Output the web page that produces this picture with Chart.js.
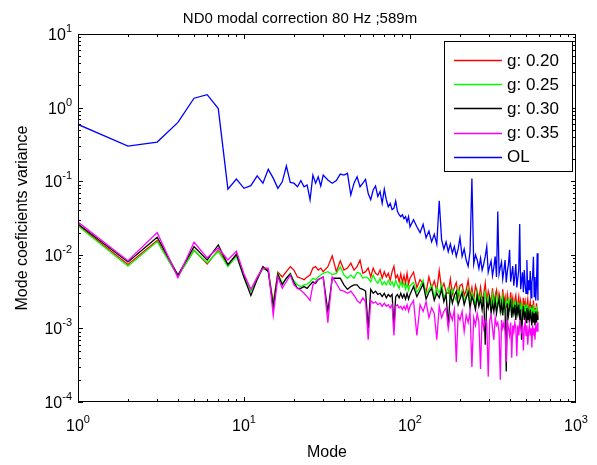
<!DOCTYPE html>
<html lang="en">
<head>
<meta charset="UTF-8">
<title>ND0 modal correction 80 Hz ;589m</title>
<script src="https://cdn.jsdelivr.net/npm/chart.js"></script>
<style>
    html, body { margin: 0; padding: 0; background: #fff; }
</style>
</head>
<body>
<canvas id="myChart" width="597" height="465"></canvas>
<script>
// Mode numbers (x values)
const modes = [
    1, 2, 3, 4, 5, 6, 7, 8, 9, 10,
    11, 12, 13, 14, 15, 16, 17, 18, 19, 20,
    21, 22, 23, 24, 25, 26, 27, 28, 29, 30,
    32, 34, 36, 38, 40, 42, 44, 46, 48, 50,
    52, 54, 56, 58, 60, 62, 64, 66, 68, 70,
    72, 74, 76, 78, 80, 82, 84, 86, 88, 90,
    92, 94, 96, 98, 100,
    105, 110, 115, 120, 125, 130, 135, 140, 145, 150,
    155, 160, 165, 170, 175, 180, 185, 190, 195, 200,
    206, 212, 218, 224, 230, 236, 242, 248, 254, 260,
    266, 272, 278, 284, 290, 296, 302, 308, 314, 320,
    326, 332, 338, 344, 350, 356, 362, 368, 374, 380,
    386, 392, 398, 404, 410, 416, 422, 428, 434, 440,
    446, 452, 458, 464, 470, 476, 482, 488, 494, 500,
    506, 512, 518, 524, 530, 536, 542, 548, 554, 560,
    566, 572, 578, 584, 590
];

// Mode coefficient variance, gain 0.20
const g020 = [
    0.0254, 0.0074, 0.0156, 0.0051, 0.0116, 0.0075, 0.0116, 0.0074, 0.0099, 0.0052,
    0.0033, 0.0049, 0.0068, 0.0062, 0.0022, 0.0058, 0.0050, 0.0059, 0.0069, 0.0062,
    0.0050, 0.0048, 0.0046, 0.0050, 0.0053, 0.0066, 0.0069, 0.0062, 0.0066, 0.0059,
    0.0069, 0.0097, 0.0059, 0.0083, 0.0062, 0.0066, 0.0077, 0.0062, 0.0069, 0.0085,
    0.0056, 0.0059, 0.0066, 0.0050, 0.0066, 0.0056, 0.0053, 0.0062, 0.0048, 0.0059,
    0.0050, 0.0056, 0.0045, 0.0059, 0.0070, 0.0048, 0.0053, 0.0043, 0.0055, 0.0042,
    0.0052, 0.0041, 0.0056, 0.0040, 0.0048,
    0.0058, 0.0036, 0.0046, 0.0040, 0.0031, 0.0050, 0.0035, 0.0044, 0.0032, 0.0061,
    0.0034, 0.0041, 0.0031, 0.0030, 0.0047, 0.0029, 0.0036, 0.0042, 0.0027, 0.0038,
    0.0040, 0.0028, 0.0033, 0.0045, 0.0027, 0.0036, 0.0024, 0.0038, 0.0031, 0.0025,
    0.0036, 0.0024, 0.0029, 0.0041, 0.0023, 0.0032, 0.0026, 0.0022, 0.0035, 0.0023,
    0.0028, 0.0033, 0.0021, 0.0030, 0.0025, 0.0020, 0.0034, 0.0022, 0.0027, 0.0019,
    0.0029, 0.0023, 0.0020, 0.0031, 0.0021, 0.0026, 0.0018, 0.0024, 0.0028, 0.0019,
    0.0022, 0.0027, 0.0018, 0.0024, 0.0020, 0.0017, 0.0026, 0.0019, 0.0023, 0.0016,
    0.0021, 0.0025, 0.0017, 0.0020, 0.0023, 0.0016, 0.0021, 0.0015, 0.0024, 0.0017,
    0.0019, 0.0015, 0.0022, 0.0017, 0.0015
];

// gain 0.25
const g025 = [
    0.0247, 0.0070, 0.0151, 0.0051, 0.0114, 0.0078, 0.0112, 0.0069, 0.0095, 0.0050,
    0.0032, 0.0047, 0.0066, 0.0060, 0.0021, 0.0056, 0.0041, 0.0048, 0.0056, 0.0044,
    0.0039, 0.0037, 0.0039, 0.0040, 0.0043, 0.0048, 0.0046, 0.0050, 0.0053, 0.0056,
    0.0059, 0.0054, 0.0056, 0.0069, 0.0053, 0.0048, 0.0053, 0.0048, 0.0058, 0.0056,
    0.0048, 0.0050, 0.0048, 0.0043, 0.0053, 0.0045, 0.0041, 0.0048, 0.0039, 0.0043,
    0.0039, 0.0045, 0.0039, 0.0043, 0.0037, 0.0045, 0.0039, 0.0035, 0.0043, 0.0037,
    0.0042, 0.0034, 0.0040, 0.0033, 0.0038,
    0.0042, 0.0031, 0.0037, 0.0045, 0.0029, 0.0034, 0.0039, 0.0027, 0.0036, 0.0030,
    0.0040, 0.0026, 0.0031, 0.0036, 0.0025, 0.0034, 0.0028, 0.0024, 0.0035, 0.0026,
    0.0033, 0.0023, 0.0028, 0.0035, 0.0022, 0.0031, 0.0026, 0.0021, 0.0032, 0.0023,
    0.0029, 0.0021, 0.0026, 0.0031, 0.0020, 0.0027, 0.0022, 0.0019, 0.0029, 0.0021,
    0.0026, 0.0018, 0.0028, 0.0021, 0.0025, 0.0018, 0.0027, 0.0020, 0.0017, 0.0025,
    0.0021, 0.0024, 0.0017, 0.0026, 0.0019, 0.0016, 0.0024, 0.0018, 0.0022, 0.0015,
    0.0023, 0.0017, 0.0020, 0.0015, 0.0023, 0.0018, 0.0014, 0.0021, 0.0016, 0.0020,
    0.0015, 0.0021, 0.0016, 0.0014, 0.0020, 0.0015, 0.0019, 0.0013, 0.0021, 0.0014,
    0.0018, 0.0013, 0.0020, 0.0014, 0.0014
];

// gain 0.30
const g030 = [
    0.0262, 0.0080, 0.0173, 0.0053, 0.0129, 0.0085, 0.0136, 0.0073, 0.0102, 0.0049,
    0.0028, 0.0046, 0.0069, 0.0059, 0.0020, 0.0054, 0.0039, 0.0048, 0.0055, 0.0042,
    0.0035, 0.0035, 0.0037, 0.0035, 0.0039, 0.0043, 0.0041, 0.0046, 0.0048, 0.0050,
    0.0017, 0.0048, 0.0048, 0.0048, 0.0039, 0.0034, 0.0037, 0.0039, 0.0039, 0.0035,
    0.0034, 0.0032, 0.0010, 0.0034, 0.0030, 0.0032, 0.0029, 0.0030, 0.0027, 0.0030,
    0.0026, 0.0029, 0.0027, 0.0029, 0.0011, 0.0027, 0.0029, 0.0026, 0.0030, 0.0026,
    0.0029, 0.0025, 0.0030, 0.0025, 0.0029,
    0.0037, 0.0027, 0.0033, 0.0040, 0.0025, 0.0031, 0.0035, 0.0024, 0.0030, 0.0026,
    0.0034, 0.0023, 0.0029, 0.0011, 0.0031, 0.0022, 0.0028, 0.0032, 0.0021, 0.0025,
    0.0030, 0.0021, 0.0026, 0.0031, 0.0019, 0.0027, 0.0023, 0.0018, 0.0028, 0.0020,
    0.0025, 0.0018, 0.0027, 0.0006, 0.0023, 0.0019, 0.0026, 0.0016, 0.0022, 0.0017,
    0.0024, 0.0016, 0.0021, 0.0025, 0.0017, 0.0022, 0.0015, 0.0023, 0.0018, 0.00026,
    0.0022, 0.0015, 0.0020, 0.0023, 0.0014, 0.0019, 0.0016, 0.0021, 0.0013, 0.0020,
    0.0016, 0.0021, 0.0013, 0.0018, 0.0007, 0.0015, 0.0020, 0.0013, 0.0017, 0.0012,
    0.0019, 0.0013, 0.0016, 0.0012, 0.0018, 0.0014, 0.0011, 0.0017, 0.0012, 0.0016,
    0.0011, 0.0017, 0.0012, 0.0015, 0.0013
];

// gain 0.35
const g035 = [
    0.0278, 0.0083, 0.0200, 0.0049, 0.0148, 0.0091, 0.0124, 0.0085, 0.0112, 0.0055,
    0.0034, 0.0049, 0.0066, 0.0066, 0.0015, 0.0050, 0.0035, 0.0043, 0.0053, 0.0039,
    0.0035, 0.0033, 0.0030, 0.0027, 0.0024, 0.0039, 0.0043, 0.0046, 0.0048, 0.0050,
    0.0012, 0.0050, 0.0041, 0.0033, 0.0032, 0.0030, 0.0032, 0.0028, 0.0024, 0.0022,
    0.0026, 0.0023, 0.0007, 0.0024, 0.0022, 0.0023, 0.0021, 0.0022, 0.0020, 0.0022,
    0.0020, 0.0021, 0.0019, 0.0021, 0.0008, 0.0020, 0.0021, 0.0019, 0.0020, 0.0018,
    0.0020, 0.0018, 0.0021, 0.0017, 0.0020,
    0.0024, 0.0008, 0.0021, 0.0017, 0.0023, 0.0014, 0.0019, 0.0016, 0.0007, 0.0020,
    0.0014, 0.0017, 0.0019, 0.0010, 0.0016, 0.0013, 0.0018, 0.00035, 0.0015, 0.0013,
    0.0017, 0.0009, 0.0015, 0.0012, 0.0017, 0.0003, 0.0014, 0.0011, 0.0016, 0.0012,
    0.00028, 0.0015, 0.0010, 0.0013, 0.0012, 0.00022, 0.0013, 0.0015, 0.0010, 0.0007,
    0.0014, 0.0011, 0.0012, 0.0009, 0.0002, 0.0013, 0.0010, 0.0012, 0.0009, 0.00035,
    0.0013, 0.0010, 0.0008, 0.0012, 0.0004, 0.0011, 0.0009, 0.0012, 0.0010, 0.00042,
    0.0011, 0.0008, 0.0012, 0.0010, 0.0009, 0.0011, 0.0005, 0.0010, 0.0012, 0.0008,
    0.0011, 0.0006, 0.0009, 0.0011, 0.0008, 0.0010, 0.00055, 0.0011, 0.0008, 0.0010,
    0.0007, 0.0011, 0.0009, 0.0012, 0.0009
];

// open loop
const openLoop = [
    0.59, 0.30, 0.34, 0.63, 1.34, 1.50, 0.97, 0.078, 0.107, 0.080,
    0.087, 0.118, 0.094, 0.145, 0.110, 0.080, 0.098, 0.161, 0.096, 0.094,
    0.084, 0.102, 0.084, 0.089, 0.056, 0.121, 0.094, 0.115, 0.086, 0.121,
    0.104, 0.094, 0.102, 0.125, 0.121, 0.128, 0.065, 0.094, 0.115, 0.084,
    0.094, 0.106, 0.068, 0.056, 0.076, 0.086, 0.062, 0.072, 0.050, 0.078,
    0.056, 0.045, 0.050, 0.041, 0.043, 0.054, 0.039, 0.035, 0.033, 0.035,
    0.031, 0.033, 0.028, 0.033, 0.024,
    0.030, 0.024, 0.020, 0.026, 0.017, 0.021, 0.015, 0.019, 0.014, 0.054,
    0.016, 0.012, 0.015, 0.011, 0.014, 0.0105, 0.013, 0.0095, 0.012, 0.017,
    0.0095, 0.012, 0.0085, 0.0070, 0.011, 0.109, 0.0075, 0.010, 0.0085, 0.0065,
    0.0090, 0.0062, 0.0075, 0.0095, 0.0129, 0.0058, 0.0070, 0.0082, 0.0052, 0.0068,
    0.0095, 0.0050, 0.0386, 0.0055, 0.0068, 0.0080, 0.0047, 0.0062, 0.0085, 0.0042,
    0.0060, 0.0075, 0.0117, 0.0043, 0.0055, 0.0070, 0.0038, 0.0052, 0.0075, 0.0036,
    0.0048, 0.0062, 0.0263, 0.0034, 0.0045, 0.0058, 0.0031, 0.0062, 0.0040, 0.0030,
    0.0085, 0.0029, 0.0045, 0.0033, 0.0060, 0.0026, 0.0042, 0.0052, 0.0094, 0.0027,
    0.0050, 0.0024, 0.0040, 0.0105, 0.0024
];

const xTicks = [1, 10, 100, 1000];
const xTickExp = ['0', '1', '2', '3'];
const yTicks = [1e-4, 1e-3, 1e-2, 1e-1, 1, 10];
const yTickExp = ['-4', '-3', '-2', '-1', '0', '1'];

const FONT = '"Liberation Sans", Arial, sans-serif';

function toPoints(values) {
    return modes.map((m, i) => ({ x: m, y: values[i] }));
}

function series(label, values, color, order) {
    return {
        label: label,
        data: toPoints(values),
        borderColor: color,
        backgroundColor: color,
        borderWidth: 1.3,
        pointRadius: 0,
        tension: 0,
        order: order
    };
}

// draws "10" with a raised exponent
function powLabel(ctx, exp, x, y, align) {
    ctx.font = '16px ' + FONT;
    const wb = ctx.measureText('10').width;
    ctx.font = '11px ' + FONT;
    const we = ctx.measureText(exp).width;
    const total = wb + we;
    let x0 = x - total / 2;
    if (align === 'right') x0 = x - total;
    ctx.textAlign = 'left';
    ctx.textBaseline = 'alphabetic';
    ctx.font = '16px ' + FONT;
    ctx.fillText('10', x0, y);
    ctx.font = '11px ' + FONT;
    ctx.fillText(exp, x0 + wb, y - 8);
}

const framePlugin = {
    id: 'frame',
    afterDraw(chart) {
        const { ctx, chartArea: a, scales } = chart;
        const x = scales.x, y = scales.y;
        ctx.save();
        ctx.strokeStyle = '#000';
        ctx.fillStyle = '#000';
        ctx.lineWidth = 1;

        // box
        ctx.strokeRect(a.left + 0.5, a.top + 0.5, a.right - a.left - 1, a.bottom - a.top - 1);

        // x ticks, inside, top and bottom
        ctx.beginPath();
        for (let d = 0; d < 3; d++) {
            for (let k = 1; k <= 9; k++) {
                const v = k * Math.pow(10, d);
                const px = Math.round(x.getPixelForValue(v)) + 0.5;
                const len = k === 1 ? 5 : 3;
                ctx.moveTo(px, a.bottom);
                ctx.lineTo(px, a.bottom - len);
                ctx.moveTo(px, a.top);
                ctx.lineTo(px, a.top + len);
            }
        }
        // y ticks, inside, left and right
        for (let d = -4; d < 1; d++) {
            for (let k = 1; k <= 9; k++) {
                const v = k * Math.pow(10, d);
                const py = Math.round(y.getPixelForValue(v)) + 0.5;
                const len = k === 1 ? 5 : 3;
                ctx.moveTo(a.left, py);
                ctx.lineTo(a.left + len, py);
                ctx.moveTo(a.right, py);
                ctx.lineTo(a.right - len, py);
            }
        }
        ctx.stroke();

        // tick labels
        xTicks.forEach((v, i) => {
            powLabel(ctx, xTickExp[i], x.getPixelForValue(v), a.bottom + 29, 'center');
        });
        yTicks.forEach((v, i) => {
            powLabel(ctx, yTickExp[i], a.left - 6, y.getPixelForValue(v) + 6, 'right');
        });

        // title and axis titles
        ctx.textAlign = 'center';
        ctx.textBaseline = 'alphabetic';
        ctx.font = '15px ' + FONT;
        ctx.fillText('ND0 modal correction 80 Hz ;589m', 300, 23);
        ctx.font = '16px ' + FONT;
        ctx.fillText('Mode', (a.left + a.right) / 2, 457);
        ctx.save();
        ctx.translate(27, (a.top + a.bottom) / 2);
        ctx.rotate(-Math.PI / 2);
        ctx.fillText('Mode coeficients variance', 0, 0);
        ctx.restore();

        // legend box
        const lx = 444, ly = 41, lw = 128, lh = 130;
        ctx.fillStyle = '#fff';
        ctx.fillRect(lx, ly, lw, lh);
        ctx.strokeStyle = '#000';
        ctx.strokeRect(lx + 0.5, ly + 0.5, lw, lh);
        ctx.font = '17px ' + FONT;
        ctx.textAlign = 'left';
        ctx.textBaseline = 'middle';
        chart.data.datasets.forEach((ds, i) => {
            const ry = 60 + i * 24.2;
            ctx.strokeStyle = ds.borderColor;
            ctx.lineWidth = 1.3;
            ctx.beginPath();
            ctx.moveTo(454, Math.round(ry) + 0.5);
            ctx.lineTo(502, Math.round(ry) + 0.5);
            ctx.stroke();
            ctx.fillStyle = '#000';
            ctx.fillText(ds.label, 507, ry + 1);
        });
        ctx.restore();
    }
};

new Chart(document.getElementById('myChart').getContext('2d'), {
    type: 'line',
    data: {
        datasets: [
            series('g: 0.20', g020, '#ff0000', 5),
            series('g: 0.25', g025, '#00ff00', 4),
            series('g: 0.30', g030, '#000000', 3),
            series('g: 0.35', g035, '#ff00ff', 2),
            series('OL', openLoop, '#0000ff', 1)
        ]
    },
    options: {
        responsive: false,
        animation: false,
        devicePixelRatio: 1,
        layout: { padding: { left: 78, top: 34, right: 21, bottom: 63 } },
        scales: {
            x: { type: 'logarithmic', min: 1, max: 1000, display: false },
            y: { type: 'logarithmic', min: 1e-4, max: 10, display: false }
        },
        plugins: {
            legend: { display: false },
            tooltip: { enabled: false }
        }
    },
    plugins: [framePlugin]
});
</script>
</body>
</html>
